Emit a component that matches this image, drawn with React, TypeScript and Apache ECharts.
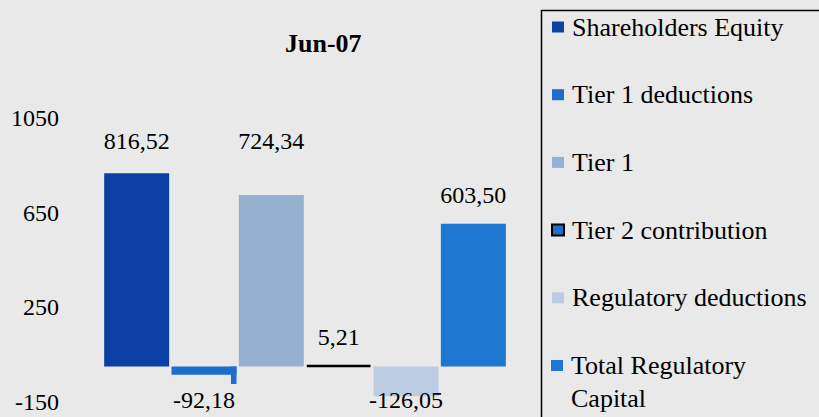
import React, { useEffect, useRef } from "react";
import * as echarts from "echarts";

const categories = [
  "Shareholders Equity",
  "Tier 1 deductions",
  "Tier 1",
  "Tier 2 contribution",
  "Regulatory deductions",
  "Total Regulatory Capital",
];
const values = [816.52, -92.18, 724.34, 5.21, -126.05, 603.5];
const yTicks = { min: -150, max: 1050, interval: 400 };
const title = "Jun-07";

const colors = ["#0b41a5", "#1e6ccb", "#96b0d1", "#1c6fcb", "#bccce2", "#1d77d1"];
const labelDistances = [20, 0, 42, 16, -8, 17];

const FONT = "'Liberation Serif', 'Times New Roman', serif";
const fmt = (v: number) => v.toFixed(2).replace(".", ",");

export default function App() {
  const ref = useRef<HTMLDivElement>(null);
  useEffect(() => {
    if (!ref.current) return;
    const chart = echarts.init(ref.current, null, { renderer: "svg" });

    const series: any[] = categories.map((name, i) => {
      if (i === 1) {
        return {
          name,
          type: "custom",
          coordinateSystem: "cartesian2d",
          itemStyle: { color: colors[i] },
          encode: { x: 0, y: 1 },
          data: [[i, values[i]]],
          renderItem: (params: any, api: any) => {
            const cat = api.value(0);
            const v = api.value(1);
            const p0 = api.coord([cat, 0]);
            const p1 = api.coord([cat, v]);
            const w = api.size([1, 0])[0] * 0.965;
            const x = p0[0] - w / 2;
            const h = p1[1] - p0[1];
            return {
              type: "group",
              children: [
                { type: "rect", shape: { x, y: p0[1], width: w, height: h * 0.38 }, style: { fill: colors[i] } },
                { type: "rect", shape: { x: x + w * 0.915, y: p0[1], width: w * 0.085, height: h * 0.8 }, style: { fill: colors[i] } },
                {
                  type: "text",
                  style: {
                    text: fmt(v),
                    x: p0[0],
                    y: p1[1] + labelDistances[i],
                    align: "center",
                    verticalAlign: "top",
                    fill: "#000",
                    font: `24px ${FONT}`,
                  },
                },
              ],
            };
          },
        };
      }
      const data = categories.map((_, j) =>
        j === i
          ? {
              value: values[i],
              label: { distance: labelDistances[i], position: values[i] < 0 ? "bottom" : "top" },
            }
          : "-"
      );
      return {
        name,
        type: "bar",
        barWidth: "96.5%",
        barGap: "-100%",
        itemStyle:
          i === 3
            ? { color: colors[i], borderColor: "#000", borderWidth: 2.5 }
            : { color: colors[i] },
        label: {
          show: true,
          color: "#000",
          fontSize: 24,
          fontFamily: FONT,
          formatter: (p: any) => fmt(p.value),
        },
        data,
      };
    });

    chart.setOption({
      animation: false,
      backgroundColor: "#e9e9e9",
      title: {
        text: title,
        left: 285,
        top: 30,
        padding: 0,
        textStyle: { fontSize: 26, fontWeight: "bold", fontFamily: FONT, color: "#000" },
      },
      grid: { left: 103, right: 312, top: 118, bottom: 15 },
      xAxis: { type: "category", data: categories, show: false },
      yAxis: {
        type: "value",
        min: yTicks.min,
        max: yTicks.max,
        interval: yTicks.interval,
        splitLine: { show: false },
        axisLine: { show: false },
        axisTick: { show: false },
        axisLabel: {
          color: "#000",
          fontSize: 24,
          fontFamily: FONT,
          margin: 44,
          formatter: (v: number) => String(v),
        },
      },
      legend: [
        {
          data: categories.slice(0, 5),
          orient: "vertical",
          left: 551,
          top: 12,
          padding: 0,
          icon: "rect",
          itemWidth: 12,
          itemHeight: 11,
          itemGap: 37.7,
          selectedMode: false,
          textStyle: { fontSize: 26, fontFamily: FONT, color: "#000", lineHeight: 30, padding: [0, 0, 0, 3] },
        },
        {
          data: categories.slice(5),
          orient: "vertical",
          left: 551,
          top: 316,
          padding: 0,
          icon: "rect",
          itemWidth: 12,
          itemHeight: 11,
          selectedMode: false,
          formatter: () => "\nTotal Regulatory\nCapital",
          textStyle: { fontSize: 26, fontFamily: FONT, color: "#000", lineHeight: 33, padding: [0, 0, 0, 3] },
        },
      ],
      graphic: [
        {
          type: "rect",
          left: 539,
          top: 8,
          shape: { width: 300, height: 430 },
          style: { fill: "none", stroke: "#000", lineWidth: 1.5 },
        },
      ],
      series,
    });
    return () => chart.dispose();
  }, []);
  return (
    <div
      ref={ref}
      style={{ position: "absolute", left: 0, top: 0, width: 819, height: 417 }}
    />
  );
}
